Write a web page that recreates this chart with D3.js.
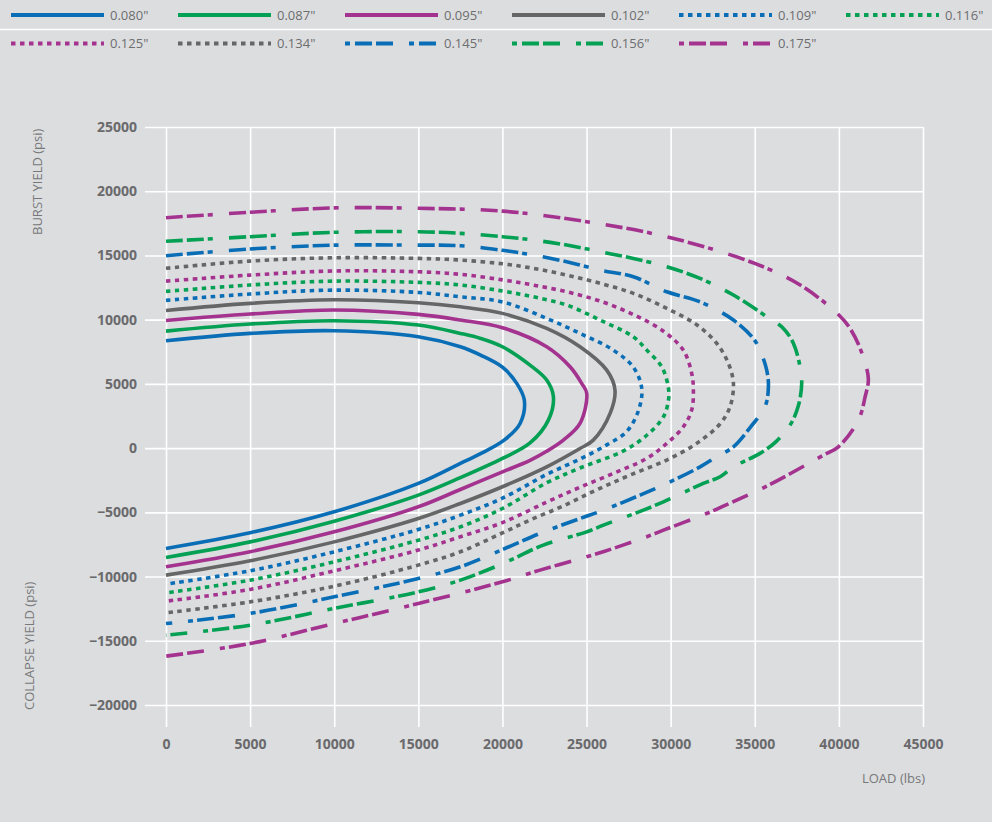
<!DOCTYPE html>
<html>
<head>
<meta charset="utf-8">
<script src="https://cdn.jsdelivr.net/npm/d3@7"></script>
<style>
  html, body { margin: 0; padding: 0; background: #dcdddf; }
  svg { display: block; font-family: "Open Sans", sans-serif; }
</style>
</head>
<body>
<svg id="chart" width="992" height="822"></svg>
<script>
// ---- data: [load (lbs), yield (psi)] ----
const s080 = [[0,8360],[5000,8930],[10000,9140],[15000,8670],[17500,7890],[18700,7240],[20000,6300],[20850,5040],[21300,3740],[21050,1920],[20100,620],[18670,-450],[17500,-1190],[15000,-2750],[10000,-4960],[5000,-6590],[0,-7810]];
const s087 = [[0,9110],[5000,9660],[10000,9920],[15000,9580],[17500,8930],[18700,8540],[20000,7890],[21640,6460],[22630,5300],[23030,4000],[22730,2180],[21640,400],[20000,-800],[17500,-2300],[15000,-3660],[10000,-5690],[5000,-7300],[0,-8510]];
const s095 = [[0,9940],[5000,10440],[10000,10750],[15000,10410],[17500,9970],[20000,9370],[22630,7890],[24020,6330],[24710,5040],[25010,4260],[24610,1920],[23620,620],[22630,-250],[21640,-950],[20000,-1850],[17500,-3220],[15000,-4570],[10000,-6520],[5000,-8070],[0,-9240]];
const s102 = [[0,10720],[5000,11270],[10000,11550],[15000,11320],[17500,11000],[20000,10490],[22630,9320],[24610,7890],[26200,6070],[26690,4520],[26400,2700],[25400,620],[24610,-30],[22630,-1460],[20000,-3010],[17500,-4310],[15000,-5480],[10000,-7300],[5000,-8770],[0,-9890]];
const s109 = [[0,11500],[5000,12000],[10000,12300],[15000,12120],[17500,11780],[20000,11380],[22630,10100],[24610,8930],[26590,7630],[27780,6300],[28280,4650],[28080,2900],[27390,1300],[26200,250],[24610,-850],[22630,-2050],[20000,-3900],[17500,-5220],[15000,-6330],[10000,-8070],[5000,-9550],[0,-10590]];
const s116 = [[0,12200],[5000,12700],[10000,13000],[15000,12900],[17500,12700],[20000,12230],[21840,11780],[23820,11140],[25800,9970],[27780,8670],[28580,7630],[29470,6330],[29870,4650],[29870,3740],[29570,2440],[28580,1000],[27190,-220],[24610,-1550],[22630,-2700],[20000,-4700],[17500,-6130],[15000,-7170],[10000,-8850],[5000,-10280],[0,-11270]];
const s125 = [[0,13000],[5000,13470],[10000,13790],[15000,13730],[17500,13530],[20000,13100],[21840,12690],[23820,12170],[25800,11450],[27780,10400],[29570,9100],[30750,7630],[31250,5820],[31350,4520],[31250,2960],[30750,1660],[29770,370],[28580,-800],[26590,-1970],[24610,-3050],[22630,-4200],[20000,-5800],[17500,-6900],[15000,-7940],[10000,-9550],[5000,-11000],[0,-11920]];
const s134 = [[0,14000],[5000,14560],[10000,14820],[15000,14770],[17500,14640],[20000,14350],[21840,14000],[23820,13470],[25800,12830],[27780,12050],[29770,10880],[31550,9600],[32740,8150],[33430,6600],[33730,5040],[33530,3220],[32940,1900],[31550,370],[29770,-930],[27590,-2100],[25600,-3250],[23620,-4500],[21640,-5600],[20000,-6600],[17500,-8070],[15000,-9110],[10000,-10750],[5000,-11970],[0,-12820]];
const s145 = [[0,14980],[5000,15500],[10000,15800],[15000,15800],[17500,15760],[20000,15400],[21840,15030],[23820,14510],[25800,13860],[27780,13340],[29770,12170],[31750,11390],[33730,9970],[34910,8540],[35310,7630],[35710,6070],[35810,4770],[35610,3220],[34720,1600],[33730,100],[32740,-670],[31750,-1460],[29770,-2750],[28180,-3660],[26000,-4830],[24610,-5480],[22230,-6640],[20000,-7900],[17500,-9240],[15000,-10150],[10000,-11580],[5000,-12870],[0,-13660]];
const s156 = [[0,16100],[5000,16460],[10000,16800],[15000,16850],[17500,16720],[20000,16460],[21840,16200],[23820,15810],[25800,15290],[27780,14770],[29770,14120],[31750,13210],[33730,11920],[35710,10230],[36700,9320],[37300,8150],[37690,6330],[37790,5040],[37590,3290],[37100,1790],[36250,490],[35310,-410],[33730,-1460],[32940,-2230],[31940,-2750],[29570,-4180],[28380,-4830],[26000,-6000],[25010,-6520],[22430,-7550],[20000,-9000],[17500,-10280],[15000,-11190],[10000,-12480],[5000,-13790],[0,-14560]];
const s175 = [[0,17940],[5000,18360],[10000,18700],[15000,18670],[20000,18450],[25000,17630],[30000,16380],[35000,14380],[37700,12700],[40000,10360],[40660,9320],[41260,7770],[41750,5430],[41560,4000],[41160,2180],[39970,100],[39080,-550],[35710,-2960],[33130,-4520],[32140,-5090],[29570,-6390],[28580,-6900],[25990,-8070],[25000,-8460],[22230,-9500],[20000,-10410],[15000,-12100],[10000,-13660],[5000,-15210],[0,-16200]];

const seriesLabels = ['0.080"','0.087"','0.095"','0.102"','0.109"','0.116"','0.125"','0.134"','0.145"','0.156"','0.175"'];
const seriesData = [s080,s087,s095,s102,s109,s116,s125,s134,s145,s156,s175];
const xTicks = [0,5000,10000,15000,20000,25000,30000,35000,40000,45000];
const yTicks = [-20000,-15000,-10000,-5000,0,5000,10000,15000,20000,25000];

// ---- styles ----
const BLUE = "#0a6eb6", GREEN = "#04a054", MAGENTA = "#a3338f", GREY = "#666666";
const colors = [BLUE, GREEN, MAGENTA, GREY, BLUE, GREEN, MAGENTA, GREY, BLUE, GREEN, MAGENTA];
const DOT = "4.5,4.5", DASHDOT = "17,4,17,4,5,16";
const dashes = [null, null, null, null, DOT, DOT, DOT, DOT, DASHDOT, DASHDOT, DASHDOT];

const svg = d3.select("#chart");
svg.append("rect").attr("width", 992).attr("height", 822).attr("fill", "#dcdddf");

// ---- scales ----
const x = d3.scaleLinear().domain([0, 45000]).range([166, 923]);
const y = d3.scaleLinear().domain([-20000, 25000]).range([705, 127]);

// ---- grid / axes ----
const yAxis = svg.append("g").attr("transform", "translate(145,0)")
  .call(d3.axisLeft(y).tickValues(yTicks).tickSize(-(923 - 145)).tickPadding(8).tickFormat(d3.format("d")));
const xAxis = svg.append("g").attr("transform", "translate(0,727)")
  .call(d3.axisBottom(x).tickValues(xTicks).tickSize(-(727 - 127)).tickPadding(12).tickFormat(d3.format("d")));
[xAxis, yAxis].forEach(g => {
  g.select(".domain").remove();
  g.selectAll(".tick line").attr("stroke", "#ffffff").attr("stroke-width", 1.6);
  g.selectAll(".tick text").attr("fill", "#6a6a6c").attr("font-size", "14px")
    .attr("font-weight", 700).attr("font-family", '"Open Sans", sans-serif');
});

// ---- axis titles ----
svg.append("text").attr("transform", "translate(42,235) rotate(-90)")
  .attr("fill", "#77787a").attr("font-size", "13px").text("BURST YIELD (psi)");
svg.append("text").attr("transform", "translate(34,710) rotate(-90)")
  .attr("fill", "#77787a").attr("font-size", "13px").text("COLLAPSE YIELD (psi)");
svg.append("text").attr("x", 925).attr("y", 783).attr("text-anchor", "end")
  .attr("fill", "#77787a").attr("font-size", "13px").text("LOAD (lbs)");

// ---- curves ----
const line = d3.line().x(d => x(d[0])).y(d => y(d[1])).curve(d3.curveCatmullRom.alpha(0.5));
seriesData.forEach((data, i) => {
  const p = svg.append("path").datum(data)
    .attr("d", line).attr("fill", "none")
    .attr("stroke", colors[i]).attr("stroke-width", 3.6)
    .attr("stroke-linecap", "butt").attr("stroke-linejoin", "round");
  if (dashes[i]) p.attr("stroke-dasharray", dashes[i]);
});

// ---- legend ----
svg.append("line").attr("x1", 0).attr("x2", 992).attr("y1", 29.5).attr("y2", 29.5)
  .attr("stroke", "#ffffff").attr("stroke-width", 1.5);
seriesLabels.forEach((lab, i) => {
  const row = Math.floor(i / 6), col = i % 6;
  const x0 = 11 + col * 167, yy = row === 0 ? 15 : 43.5;
  const l = svg.append("line").attr("x1", x0).attr("x2", x0 + 93).attr("y1", yy).attr("y2", yy)
    .attr("stroke", colors[i]).attr("stroke-width", 4);
  if (dashes[i]) l.attr("stroke-dasharray", dashes[i] === DASHDOT ? "5,5,17,4,17,16" : dashes[i]);
  svg.append("text").attr("x", x0 + 99).attr("y", yy + 4.8)
    .attr("fill", "#6d6e70").attr("font-size", "13px").text(lab);
});
</script>
</body>
</html>
